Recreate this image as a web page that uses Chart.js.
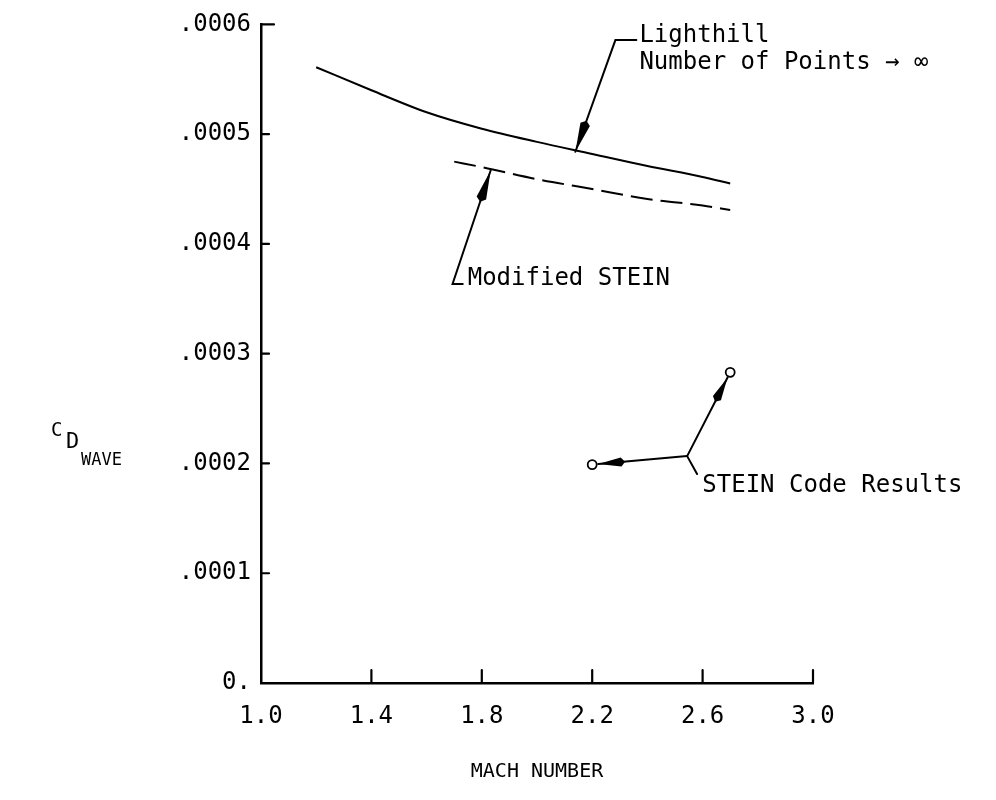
<!DOCTYPE html>
<html>
<head>
<meta charset="utf-8">
<script src="https://cdn.jsdelivr.net/npm/chart.js@4.4.1/dist/chart.umd.min.js"></script>
<style>
  html, body { margin: 0; padding: 0; background: #fff; }
</style>
</head>
<body>
<canvas id="chart" width="996" height="800"></canvas>
<script>
const machTicks = [1.0, 1.4, 1.8, 2.2, 2.6, 3.0];
const cdTicks = [0, 0.0001, 0.0002, 0.0003, 0.0004, 0.0005, 0.0006];

// Lighthill, number of points -> infinity
const lighthillMach = [1.2, 1.4, 1.6, 1.8, 2.0, 2.2, 2.4, 2.6, 2.7];
const lighthillCd = [0.000561, 0.000540, 0.000520, 0.000505, 0.000493, 0.000482, 0.000471, 0.000461, 0.000455];

// Modified STEIN
const modSteinMach = [1.7, 1.8, 2.0, 2.2, 2.4, 2.6, 2.7];
const modSteinCd = [0.000475, 0.000470, 0.000459, 0.000450, 0.000441, 0.000435, 0.000431];

// STEIN code results
const steinMach = [2.2, 2.7];
const steinCd = [0.000199, 0.000283];

const FONT = "'DejaVu Sans Mono', monospace";

const toPts = (xs, ys) => xs.map((x, i) => ({ x: x, y: ys[i] }));

// callouts, in data units (mach, cd)
const callouts = [
  { leader: [[2.139, 0.000484], [2.284, 0.0005857], [2.360, 0.0005857]],
    lines: [['Lighthill', 2.371, 0.0005893], ['Number of Points \u2192 \u221e', 2.371, 0.0005648]] },
  { leader: [[1.832, 0.0004669], [1.694, 0.0003636], [1.731, 0.0003636]],
    lines: [['Modified STEIN', 1.749, 0.0003681]] }
];

const annotate = {
  id: 'annotate',
  afterDraw(chart) {
    const { ctx, chartArea: a, scales: { x, y } } = chart;
    const px = (m, c) => [x.getPixelForValue(m), y.getPixelForValue(c)];
    ctx.save();
    ctx.strokeStyle = '#000';
    ctx.fillStyle = '#000';
    ctx.lineCap = 'round';

    // short inward tick marks
    ctx.lineWidth = 2.2;
    ctx.beginPath();
    machTicks.slice(1).forEach(m => {
      const p = x.getPixelForValue(m);
      ctx.moveTo(p, a.bottom);
      ctx.lineTo(p, a.bottom - 13);
    });
    cdTicks.slice(1).forEach((c, i, arr) => {
      const p = y.getPixelForValue(c);
      ctx.moveTo(a.left, p);
      ctx.lineTo(a.left + (i === arr.length - 1 ? 13 : 8), p);
    });
    ctx.stroke();

    const arrowHead = (tip, from, len, w) => {
      const dx = from[0] - tip[0], dy = from[1] - tip[1];
      const d = Math.hypot(dx, dy);
      const ux = dx / d, uy = dy / d;
      const bx = tip[0] + ux * len, by = tip[1] + uy * len;
      ctx.beginPath();
      ctx.moveTo(tip[0], tip[1]);
      ctx.lineTo(bx - uy * w / 2, by + ux * w / 2);
      ctx.lineTo(bx + ux * 4, by + uy * 4);
      ctx.lineTo(bx + uy * w / 2, by - ux * w / 2);
      ctx.closePath();
      ctx.fill();
    };

    ctx.lineWidth = 2;
    ctx.font = '24px ' + FONT;
    ctx.textBaseline = 'middle';
    ctx.textAlign = 'left';
    callouts.forEach(c => {
      const pts = c.leader.map(p => px(p[0], p[1]));
      ctx.beginPath();
      pts.forEach((p, i) => i ? ctx.lineTo(p[0], p[1]) : ctx.moveTo(p[0], p[1]));
      ctx.stroke();
      arrowHead(pts[0], pts[1], 29, 10);
      c.lines.forEach(t => {
        const p = px(t[1], t[2]);
        ctx.fillText(t[0], p[0], p[1]);
      });
    });

    // STEIN code results: one label, two arrows
    const j = px(2.544, 0.0002067);
    const tail = px(2.580, 0.0001904);
    ctx.beginPath();
    ctx.moveTo(tail[0], tail[1]);
    ctx.lineTo(j[0], j[1]);
    ctx.stroke();
    steinMach.forEach((m, i) => {
      const c = px(m, steinCd[i]);
      const dx = j[0] - c[0], dy = j[1] - c[1], d = Math.hypot(dx, dy);
      const edge = [c[0] + dx / d * 6, c[1] + dy / d * 6];
      ctx.beginPath();
      ctx.moveTo(j[0], j[1]);
      ctx.lineTo(edge[0], edge[1]);
      ctx.stroke();
      arrowHead(edge, j, 23, 9);
    });
    const tp = px(2.599, 0.0001795);
    ctx.fillText('STEIN Code Results', tp[0], tp[1]);

    // y axis title C_D_WAVE
    ctx.font = '19px ' + FONT;
    ctx.fillText('C', 51, 431);
    ctx.font = '22px ' + FONT;
    ctx.fillText('D', 66, 442);
    ctx.font = '17px ' + FONT;
    ctx.fillText('WAVE', 81, 461);
    ctx.restore();
  }
};

new Chart(document.getElementById('chart').getContext('2d'), {
  type: 'scatter',
  data: {
    datasets: [
      {
        data: toPts(lighthillMach, lighthillCd),
        showLine: true,
        borderColor: '#000',
        borderWidth: 2,
        pointRadius: 0,
        cubicInterpolationMode: 'monotone'
      },
      {
        data: toPts(modSteinMach, modSteinCd),
        showLine: true,
        borderColor: '#000',
        borderWidth: 2,
        borderDash: [22, 8],
        pointRadius: 0,
        cubicInterpolationMode: 'monotone'
      },
      {
        data: toPts(steinMach, steinCd),
        showLine: false,
        pointRadius: 4.5,
        pointBackgroundColor: '#fff',
        pointBorderColor: '#000',
        pointBorderWidth: 1.8
      }
    ]
  },
  options: {
    responsive: false,
    animation: false,
    layout: { padding: { top: 21, right: 183, left: 0, bottom: 0 } },
    plugins: { legend: { display: false }, tooltip: { enabled: false } },
    scales: {
      x: {
        type: 'linear',
        min: 1.0,
        max: 3.0,
        afterBuildTicks: s => { s.ticks = machTicks.map(v => ({ value: v })); },
        afterFit: s => { s.height = 117; },
        ticks: {
          callback: v => v.toFixed(1),
          font: { family: FONT, size: 24 },
          color: '#000',
          padding: 19,
          maxRotation: 0
        },
        grid: { display: false, drawTicks: false },
        border: { display: true, color: '#000', width: 2.5 },
        title: {
          display: true,
          text: 'MACH NUMBER',
          color: '#000',
          font: { family: FONT, size: 20 },
          padding: { top: 0, bottom: 16 }
        }
      },
      y: {
        type: 'linear',
        min: 0,
        max: 0.0006,
        afterBuildTicks: s => { s.ticks = cdTicks.map(v => ({ value: v })); },
        afterFit: s => { s.width = 261; },
        ticks: {
          callback: v => v === 0 ? '0.' : '.000' + Math.round(v * 10000),
          font: { family: FONT, size: 24 },
          color: '#000',
          padding: 10
        },
        grid: { display: false, drawTicks: false },
        border: { display: true, color: '#000', width: 2.5 }
      }
    }
  },
  plugins: [annotate]
});
</script>
</body>
</html>
